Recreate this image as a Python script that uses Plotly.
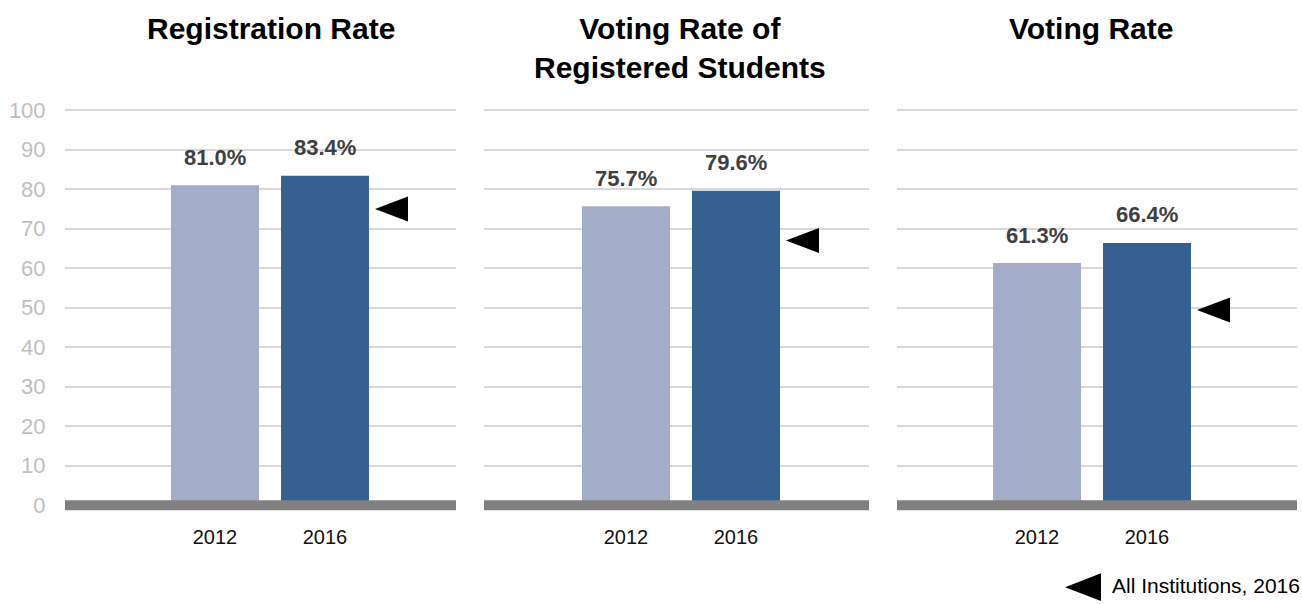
import plotly.graph_objects as go

# ---- data ----
years = ["2012", "2016"]
panel_titles = ["Registration Rate", "Voting Rate of<br>Registered Students", "Voting Rate"]
registration_rate = [81.0, 83.4]
voting_rate_registered = [75.7, 79.6]
voting_rate = [61.3, 66.4]
all_institutions_2016 = [75.0, 67.0, 49.4]
y_ticks = [0, 10, 20, 30, 40, 50, 60, 70, 80, 90, 100]
legend_label = "All Institutions, 2016"

series = [registration_rate, voting_rate_registered, voting_rate]

# ---- layout geometry (pixels) ----
W, H = 1302, 604
FONT = "Liberation Sans, Arial, sans-serif"
bar_colors = ["#A4ADC8", "#346092"]
panel_px = [(65, 456), (484, 869), (897, 1297)]
first_bar_center_px = [215, 626, 1037]
unit_px = 110.0
bar_width = 0.8
y_range = [-3, 102]
y_dom = [(H - 517.38) / H, (H - 99.08) / H]
title_center_px = [271, 680, 1091]

fig = go.Figure()
layout = dict(
    width=W, height=H,
    margin=dict(l=0, r=0, t=0, b=0),
    paper_bgcolor="white", plot_bgcolor="white",
    showlegend=False,
    font=dict(family=FONT),
    bargap=0.2,
)
annotations = []
shapes = []

for i, vals in enumerate(series):
    n = i + 1
    xa = "x" if n == 1 else f"x{n}"
    ya = "y" if n == 1 else f"y{n}"
    left, right = panel_px[i]
    c = first_bar_center_px[i]
    xr = [-(c - left) / unit_px, (right - c) / unit_px]
    fig.add_trace(go.Bar(
        x=list(range(len(years))), y=vals, width=bar_width,
        marker=dict(color=bar_colors, line=dict(width=0)),
        xaxis=xa, yaxis=ya, hoverinfo="skip",
    ))
    layout[f"xaxis{'' if n == 1 else n}"] = dict(
        domain=[left / W, right / W], range=xr, anchor=ya,
        tickmode="array", tickvals=list(range(len(years))), ticktext=years,
        showgrid=False, zeroline=False, showline=False,
        ticks="outside", ticklen=2, tickcolor="rgba(0,0,0,0)",
        tickfont=dict(family=FONT, size=20, color="#111111"),
        fixedrange=True,
    )
    layout[f"yaxis{'' if n == 1 else n}"] = dict(
        domain=y_dom, range=y_range, anchor=xa,
        tickmode="array", tickvals=y_ticks,
        showticklabels=(n == 1),
        ticks="outside" if n == 1 else "", ticklen=14, tickcolor="rgba(0,0,0,0)",
        tickfont=dict(family=FONT, size=22, color="#BFBFBF"),
        showgrid=True, gridcolor="#D9D9D9", gridwidth=2,
        zeroline=False, showline=False, fixedrange=True,
    )
    # value labels
    for j, v in enumerate(vals):
        annotations.append(dict(
            x=j, y=v, xref=xa, yref=ya, text=f"<b>{v:.1f}%</b>",
            showarrow=False, yanchor="middle", yshift=28,
            font=dict(family=FONT, size=22, color="#404040"),
        ))
    # thick baseline
    shapes.append(dict(
        type="line", xref=f"{xa} domain", yref=ya, x0=0, x1=1, y0=0, y1=0,
        line=dict(color="#808080", width=10), layer="above",
    ))
    # all-institutions marker (triangle pointing left, right of 2016 bar)
    shapes.append(dict(
        type="path", xref=xa, yref=ya,
        xsizemode="pixel", ysizemode="pixel",
        xanchor=(len(years) - 1) + bar_width / 2, yanchor=all_institutions_2016[i],
        path="M 6,0 L 39,12.5 L 39,-12.5 Z",
        fillcolor="black", line=dict(width=0), layer="above",
    ))
    # panel title
    annotations.append(dict(
        x=title_center_px[i] / W, y=1 - 6 / H, xref="paper", yref="paper",
        text=f"<b>{panel_titles[i]}</b>", showarrow=False,
        xanchor="center", yanchor="top", align="center",
        font=dict(family=FONT, size=30, color="black"),
    ))

# legend
lx0, lx1, ly0, ly1 = 1065, 1101, 574, 602
shapes.append(dict(
    type="path", xref="paper", yref="paper",
    path=f"M {lx0/W},{1-(ly0+ly1)/2/H} L {lx1/W},{1-ly0/H} L {lx1/W},{1-ly1/H} Z",
    fillcolor="black", line=dict(width=0),
))
annotations.append(dict(
    x=1110 / W, y=1 - 586 / H, xref="paper", yref="paper",
    text=legend_label, showarrow=False, xanchor="left", yanchor="middle",
    font=dict(family=FONT, size=21, color="black"),
))

layout["annotations"] = annotations
layout["shapes"] = shapes
fig.update_layout(**layout)
fig.write_html(
    "out.html",
    config={"displayModeBar": False},
    post_script="document.body.style.margin='0';document.body.style.overflow='hidden';",
)
